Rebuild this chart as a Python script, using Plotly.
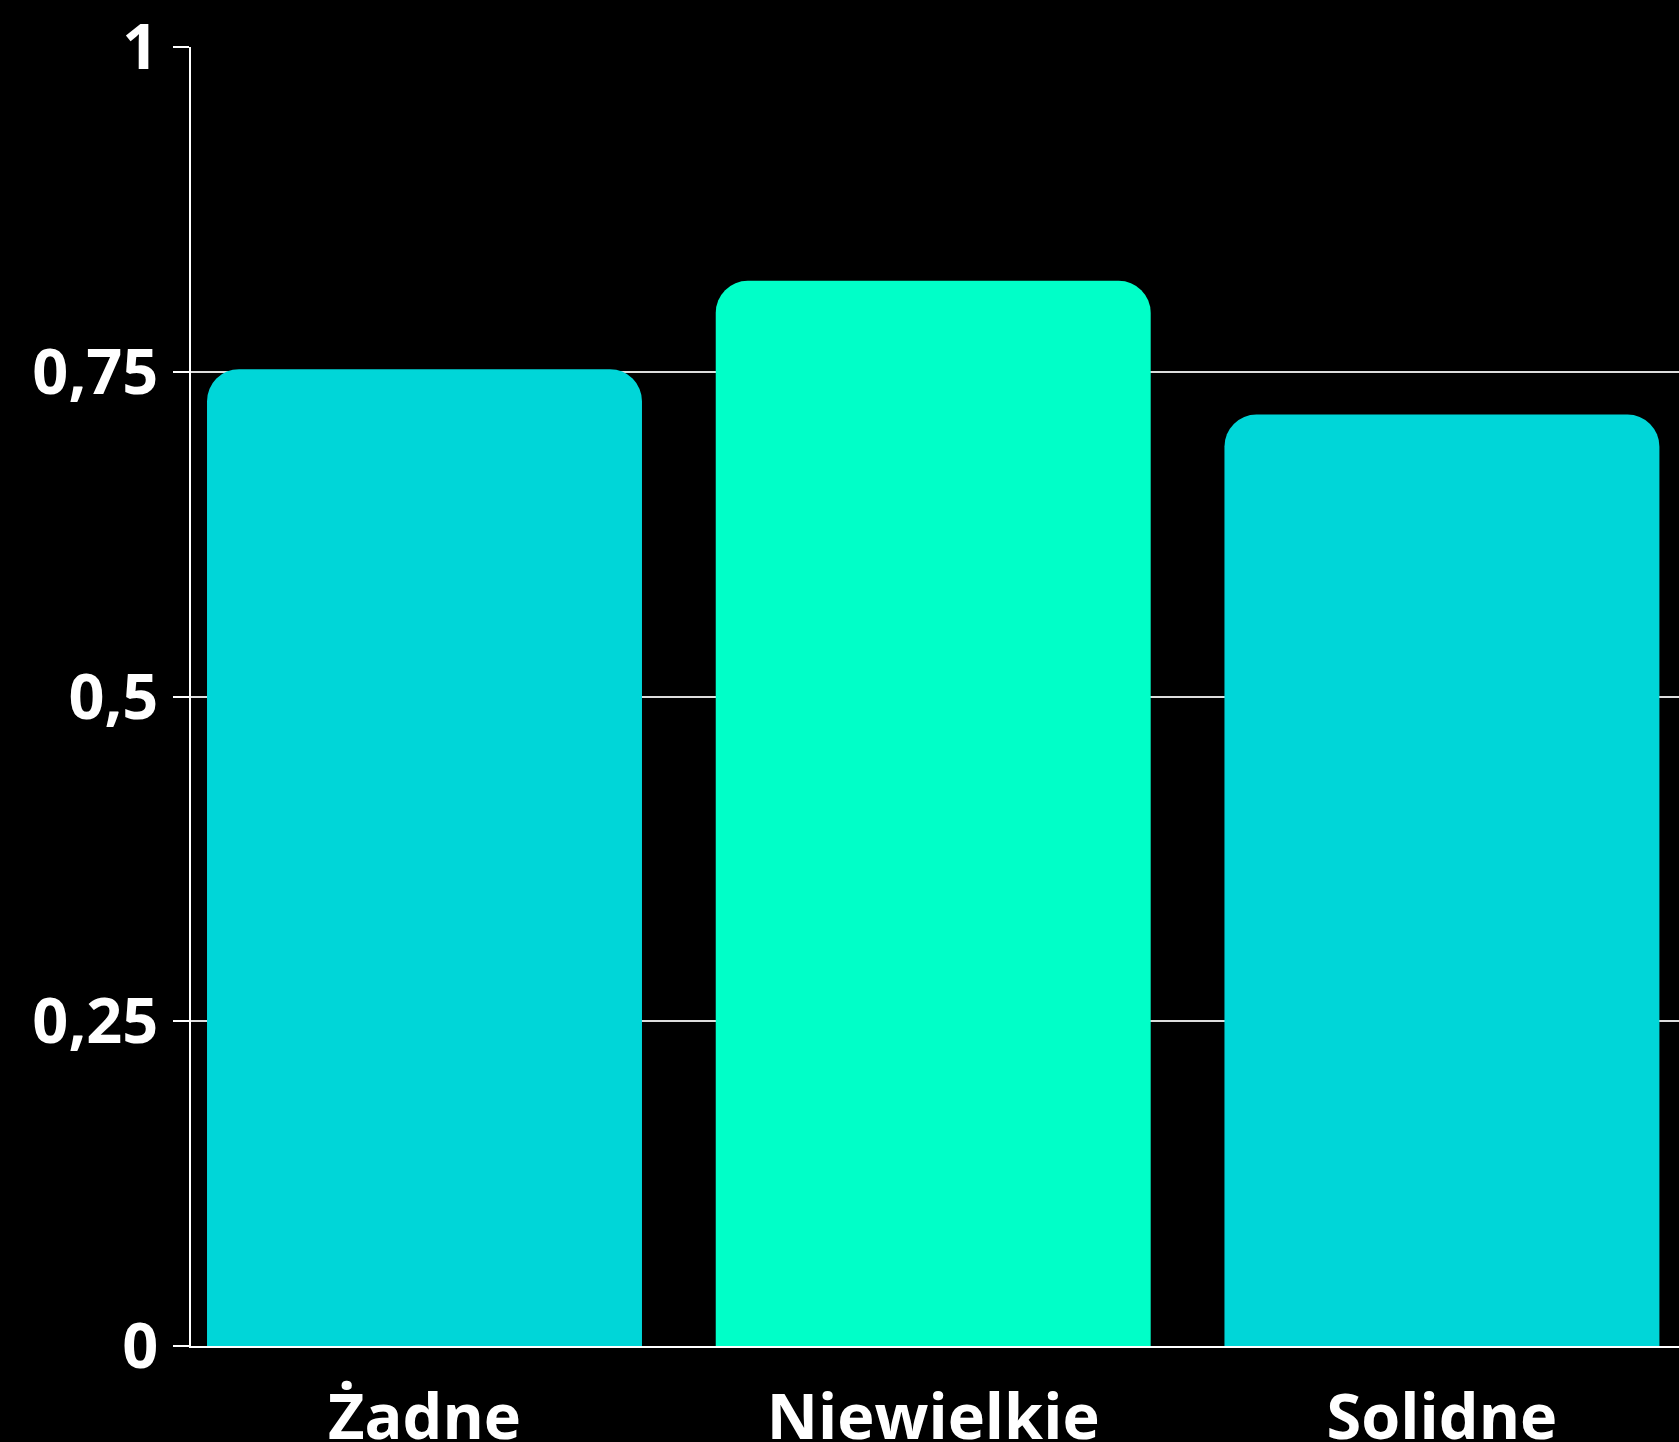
import plotly.graph_objects as go

categories = ["Żadne", "Niewielkie", "Solidne"]
values = [0.752, 0.820, 0.717]
colors = ["#00D6D8", "#00FFC8", "#00D6D8"]
y_tickvals = [0, 0.25, 0.5, 0.75, 1]
y_ticktext = ["0", "0,25", "0,5", "0,75", "1"]

fig = go.Figure(
    go.Bar(
        x=categories,
        y=values,
        marker=dict(color=colors, line=dict(width=0)),
    )
)

font = dict(family="Open Sans", size=63, color="white", weight="bold")

fig.update_layout(
    width=1679,
    height=1442,
    paper_bgcolor="black",
    plot_bgcolor="black",
    margin=dict(l=191, r=0, t=47, b=96, autoexpand=False),
    bargap=0.145,
    barcornerradius=32,
    showlegend=False,
    separators=", ",
    font=font,
)
fig.update_xaxes(
    range=[-0.459, 2.466],
    showline=True,
    linecolor="white",
    linewidth=2,
    showgrid=False,
    ticks="",
    automargin=False,
    ticklabelstandoff=15,
    tickfont=font,
)
fig.update_yaxes(
    range=[0, 1],
    tickvals=y_tickvals,
    ticktext=y_ticktext,
    showline=True,
    linecolor="white",
    linewidth=2,
    showgrid=True,
    gridcolor="#DDDDDD",
    gridwidth=2,
    zeroline=False,
    ticks="outside",
    ticklen=16,
    tickcolor="white",
    tickwidth=2,
    automargin=False,
    ticklabelstandoff=2,
    tickfont=font,
)

fig.write_html(
    "out.html",
    config={"displayModeBar": False},
    post_script="document.body.style.margin='0';document.body.style.background='black';",
)
